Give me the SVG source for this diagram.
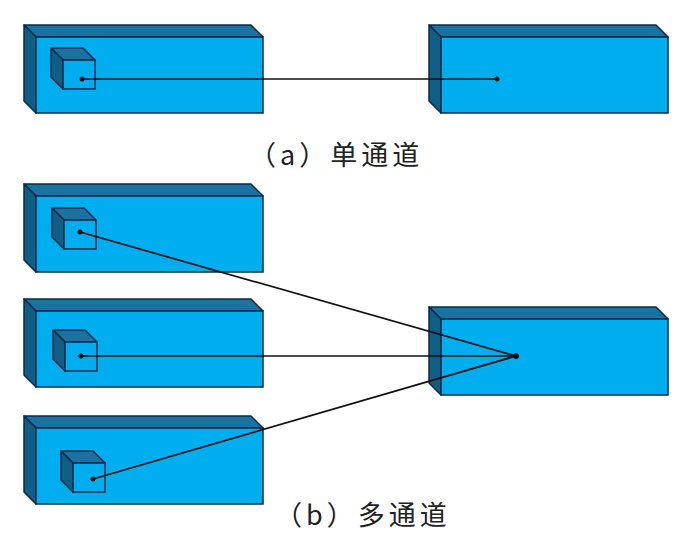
<svg xmlns="http://www.w3.org/2000/svg" xmlns:xlink="http://www.w3.org/1999/xlink" width="692" height="546" viewBox="0 0 692 546">
  <style>
    .front { fill: #00AEEF; stroke: #0B2A4A; stroke-width: 1.5; }
    .top { fill: #1A72A0; stroke: #0B2A4A; stroke-width: 1.5; stroke-linejoin: round; }
    .side { fill: #0F5E86; stroke: #0B2A4A; stroke-width: 1.5; stroke-linejoin: round; }
    .link { stroke: #111; stroke-width: 1.7; fill: none; }
    .dot { fill: #111; }
    .label { font-family: "Noto Sans CJK SC", "Liberation Serif", sans-serif; font-size: 27px; letter-spacing: 4px; fill: #222; }
  </style>
  <defs>
    <g id="box">
      <polygon class="top" points="0,0 227,0 239,12 12,12"/>
      <polygon class="side" points="0,0 12,12 12,88 0,76"/>
      <rect class="front" x="12" y="12" width="227" height="76"/>
    </g>
    <g id="cube">
      <polygon class="top" points="0,0 32,0 44,12 12,12"/>
      <polygon class="side" points="0,0 12,12 12,41 0,29"/>
      <rect class="front" x="12" y="12" width="32" height="29"/>
    </g>
  </defs>
  <rect width="692" height="546" fill="#ffffff"/>

  <g id="a-source">
    <use xlink:href="#box" href="#box" transform="translate(24,25)"/>
    <use xlink:href="#cube" href="#cube" transform="translate(51,48)"/>
  </g>
  <g id="a-target">
    <use xlink:href="#box" href="#box" transform="translate(429,25)"/>
  </g>
  <g id="b-source-1">
    <use xlink:href="#box" href="#box" transform="translate(24,184)"/>
    <use xlink:href="#cube" href="#cube" transform="translate(52,208)"/>
  </g>
  <g id="b-source-2">
    <use xlink:href="#box" href="#box" transform="translate(24,299)"/>
    <use xlink:href="#cube" href="#cube" transform="translate(53,330)"/>
  </g>
  <g id="b-source-3">
    <use xlink:href="#box" href="#box" transform="translate(24,416)"/>
    <use xlink:href="#cube" href="#cube" transform="translate(61,451)"/>
  </g>
  <g id="b-target">
    <use xlink:href="#box" href="#box" transform="translate(429,307)"/>
  </g>

  <g id="connectors">
    <line class="link" x1="82" y1="79" x2="497" y2="79"/>
    <line class="link" x1="80" y1="232" x2="516" y2="356"/>
    <line class="link" x1="81" y1="356" x2="516" y2="356"/>
    <line class="link" x1="93" y1="479" x2="516" y2="356"/>
    <circle class="dot" cx="82" cy="79" r="2.5"/>
    <circle class="dot" cx="497" cy="79" r="2.5"/>
    <circle class="dot" cx="80" cy="232" r="2.5"/>
    <circle class="dot" cx="81" cy="356" r="2.5"/>
    <circle class="dot" cx="93" cy="479" r="2.5"/>
    <circle class="dot" cx="516" cy="356" r="3"/>
  </g>

  <text class="label" x="249" y="165">（a）单通道</text>
  <text class="label" x="275" y="525">（b）多通道</text>
</svg>
